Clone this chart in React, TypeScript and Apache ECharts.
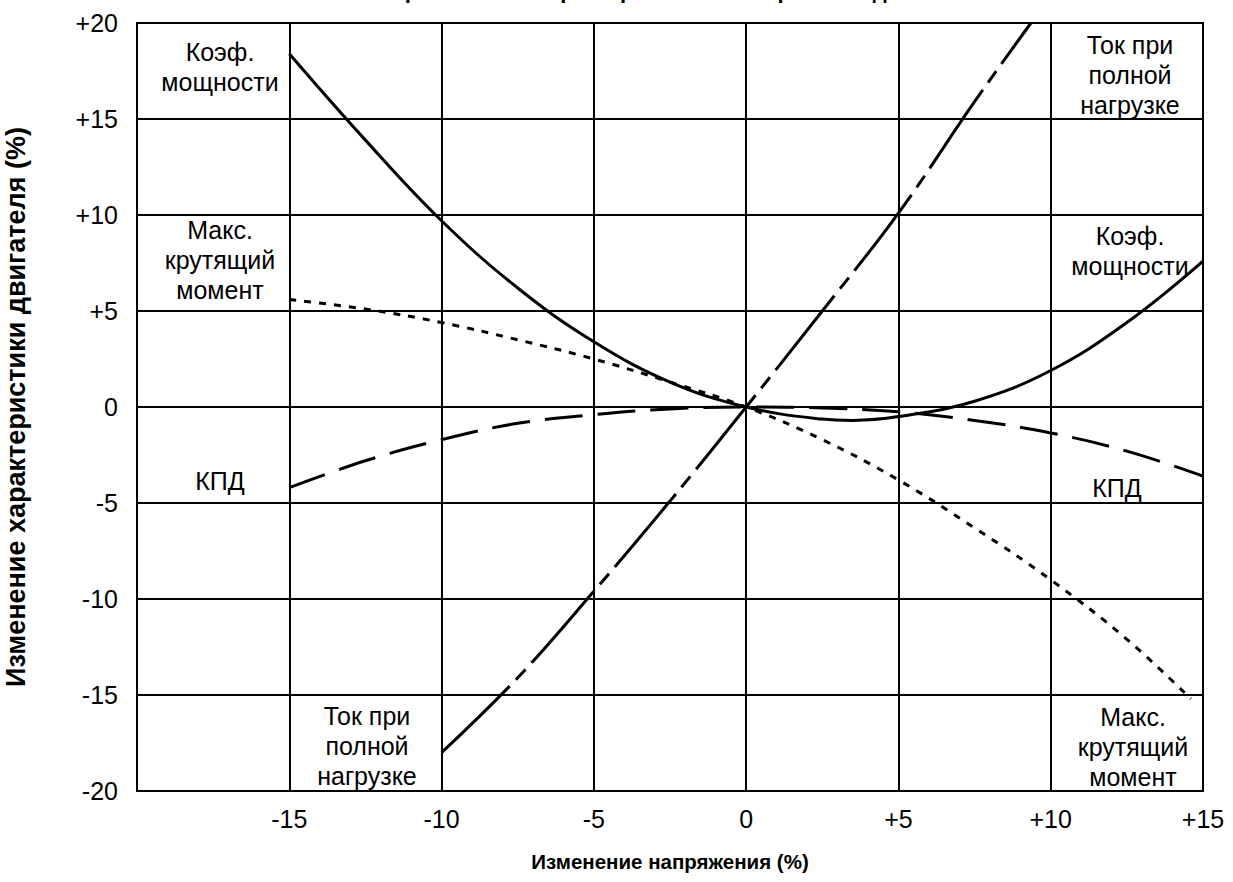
import React, { useEffect, useRef } from "react";
import * as echarts from "echarts";

const pfVoltage = [-15, -12.5, -10, -7.5, -5, -2.5, 0, 2.5, 3.5, 5, 7.5, 10, 12.5, 15];
const powerFactor = [18.4, 13.9, 9.7, 6.2, 3.4, 1.3, 0, -0.63, -0.7, -0.5, 0.3, 1.9, 4.4, 7.6];
const effVoltage = [-15, -12.5, -10, -7.5, -5, -2.5, 0, 2.5, 5, 7.5, 10, 12.5, 15];
const efficiency = [-4.2, -2.8, -1.7, -0.85, -0.4, -0.1, 0, -0.05, -0.25, -0.7, -1.35, -2.3, -3.6];
const torqueVoltage = [-15, -12.5, -10, -7.5, -5, -2.5, 0, 2.5, 5, 7.5, 10, 12.5, 14.6];
const maxTorque = [5.6, 5.1, 4.4, 3.5, 2.5, 1.3, 0, -1.7, -3.8, -6.3, -9.0, -12.1, -15.2];
const currentVoltage = [-10, -7.5, -5, -2.5, 0, 2.5, 5, 7.5, 9.35];
const fullLoadCurrent = [-18, -14.1, -9.6, -4.9, 0, 5.0, 10.1, 15.9, 20];

const xTicks = [-15, -10, -5, 0, 5, 10, 15];
const yTicks = [-20, -15, -10, -5, 0, 5, 10, 15, 20];

const titleText = "Влияние изменения напряжения на характеристики асинхронного двигателя";
const xName = "Изменение напряжения (%)";
const yName = "Изменение характеристики двигателя (%)";

const FONT = "'Liberation Sans', Arial, Helvetica, sans-serif";

const fmt = (v: number) => (v > 0 ? "+" + v : String(v));

const zip = (xs: number[], ys: number[]) => xs.map((x, i) => [x, ys[i]]);

export default function App() {
  const ref = useRef<HTMLDivElement>(null);
  useEffect(() => {
    if (!ref.current) return;
    const chart = echarts.init(ref.current, undefined, { renderer: "svg" });
    const cellLabel = (x: number, y: number, text: string) => ({
      type: "text",
      x,
      y,
      style: {
        text,
        fill: "#000",
        font: `25px ${FONT}`,
        align: "center",
        verticalAlign: "middle",
        lineHeight: 30,
      },
      z: 10,
    });
    const lineBase = { color: "#000", width: 3 };
    chart.setOption({
      animation: false,
      backgroundColor: "#fff",
      grid: {
        left: 137,
        top: 23,
        right: 30,
        bottom: 91,
        containLabel: false,
        outerBoundsMode: "none",
        show: true,
        borderColor: "#000",
        borderWidth: 2,
        backgroundColor: "transparent",
      },
      xAxis: {
        type: "value",
        min: -20,
        max: 15,
        interval: 5,
        name: xName,
        nameLocation: "middle",
        nameGap: 60,
        nameTextStyle: { fontFamily: FONT, fontSize: 20.5, fontWeight: "bold", color: "#000" },
        axisLine: { show: true, onZero: false, lineStyle: { color: "#000", width: 2 } },
        axisTick: { show: false },
        axisLabel: {
          margin: 15,
          fontFamily: FONT,
          fontSize: 25,
          color: "#000",
          formatter: (v: number) => (xTicks.includes(v) ? fmt(v) : ""),
        },
        splitLine: { show: true, lineStyle: { color: "#000", width: 2 } },
      },
      yAxis: {
        type: "value",
        min: -20,
        max: 20,
        interval: 5,
        name: yName,
        nameLocation: "middle",
        nameGap: 108,
        nameTextStyle: { fontFamily: FONT, fontSize: 27, fontWeight: "bold", color: "#000" },
        axisLine: { show: true, onZero: false, lineStyle: { color: "#000", width: 2 } },
        axisTick: { show: false },
        axisLabel: {
          margin: 19,
          fontFamily: FONT,
          fontSize: 25,
          color: "#000",
          formatter: (v: number) => (yTicks.includes(v) ? fmt(v) : ""),
        },
        splitLine: { show: true, lineStyle: { color: "#000", width: 2 } },
      },
      series: [
        {
          name: "Коэф. мощности",
          type: "line",
          data: zip(pfVoltage, powerFactor),
          smooth: 0.4,
          showSymbol: false,
          lineStyle: { ...lineBase, type: "solid" },
          z: 5,
        },
        {
          name: "КПД",
          type: "line",
          data: zip(effVoltage, efficiency),
          smooth: 0.4,
          showSymbol: false,
          lineStyle: { ...lineBase, type: [38, 15] },
          z: 5,
        },
        {
          name: "Макс. крутящий момент",
          type: "line",
          data: zip(torqueVoltage, maxTorque),
          smooth: 0.4,
          showSymbol: false,
          lineStyle: { ...lineBase, type: [7, 8] },
          z: 5,
        },
        {
          name: "Ток при полной нагрузке",
          type: "line",
          data: zip(currentVoltage, fullLoadCurrent),
          smooth: 0.4,
          showSymbol: false,
          lineStyle: { ...lineBase, type: [95, 9, 14, 9] },
          z: 5,
        },
      ],
      graphic: [
        {
          type: "text",
          x: 563,
          y: -10,
          style: {
            text: titleText,
            fill: "#000",
            font: `bold 22px ${FONT}`,
            align: "center",
            verticalAlign: "middle",
          },
        },
        cellLabel(220, 67, "Коэф.\nмощности"),
        cellLabel(220, 260, "Макс.\nкрутящий\nмомент"),
        cellLabel(220, 481, "КПД"),
        cellLabel(367, 746, "Ток при\nполной\nнагрузке"),
        cellLabel(1130, 75, "Ток при\nполной\nнагрузке"),
        cellLabel(1130, 251, "Коэф.\nмощности"),
        cellLabel(1117, 488, "КПД"),
        cellLabel(1133, 747, "Макс.\nкрутящий\nмомент"),
      ],
    });
    return () => chart.dispose();
  }, []);
  return (
    <div
      ref={ref}
      style={{ position: "absolute", left: 0, top: 0, width: 1233, height: 882 }}
    />
  );
}
